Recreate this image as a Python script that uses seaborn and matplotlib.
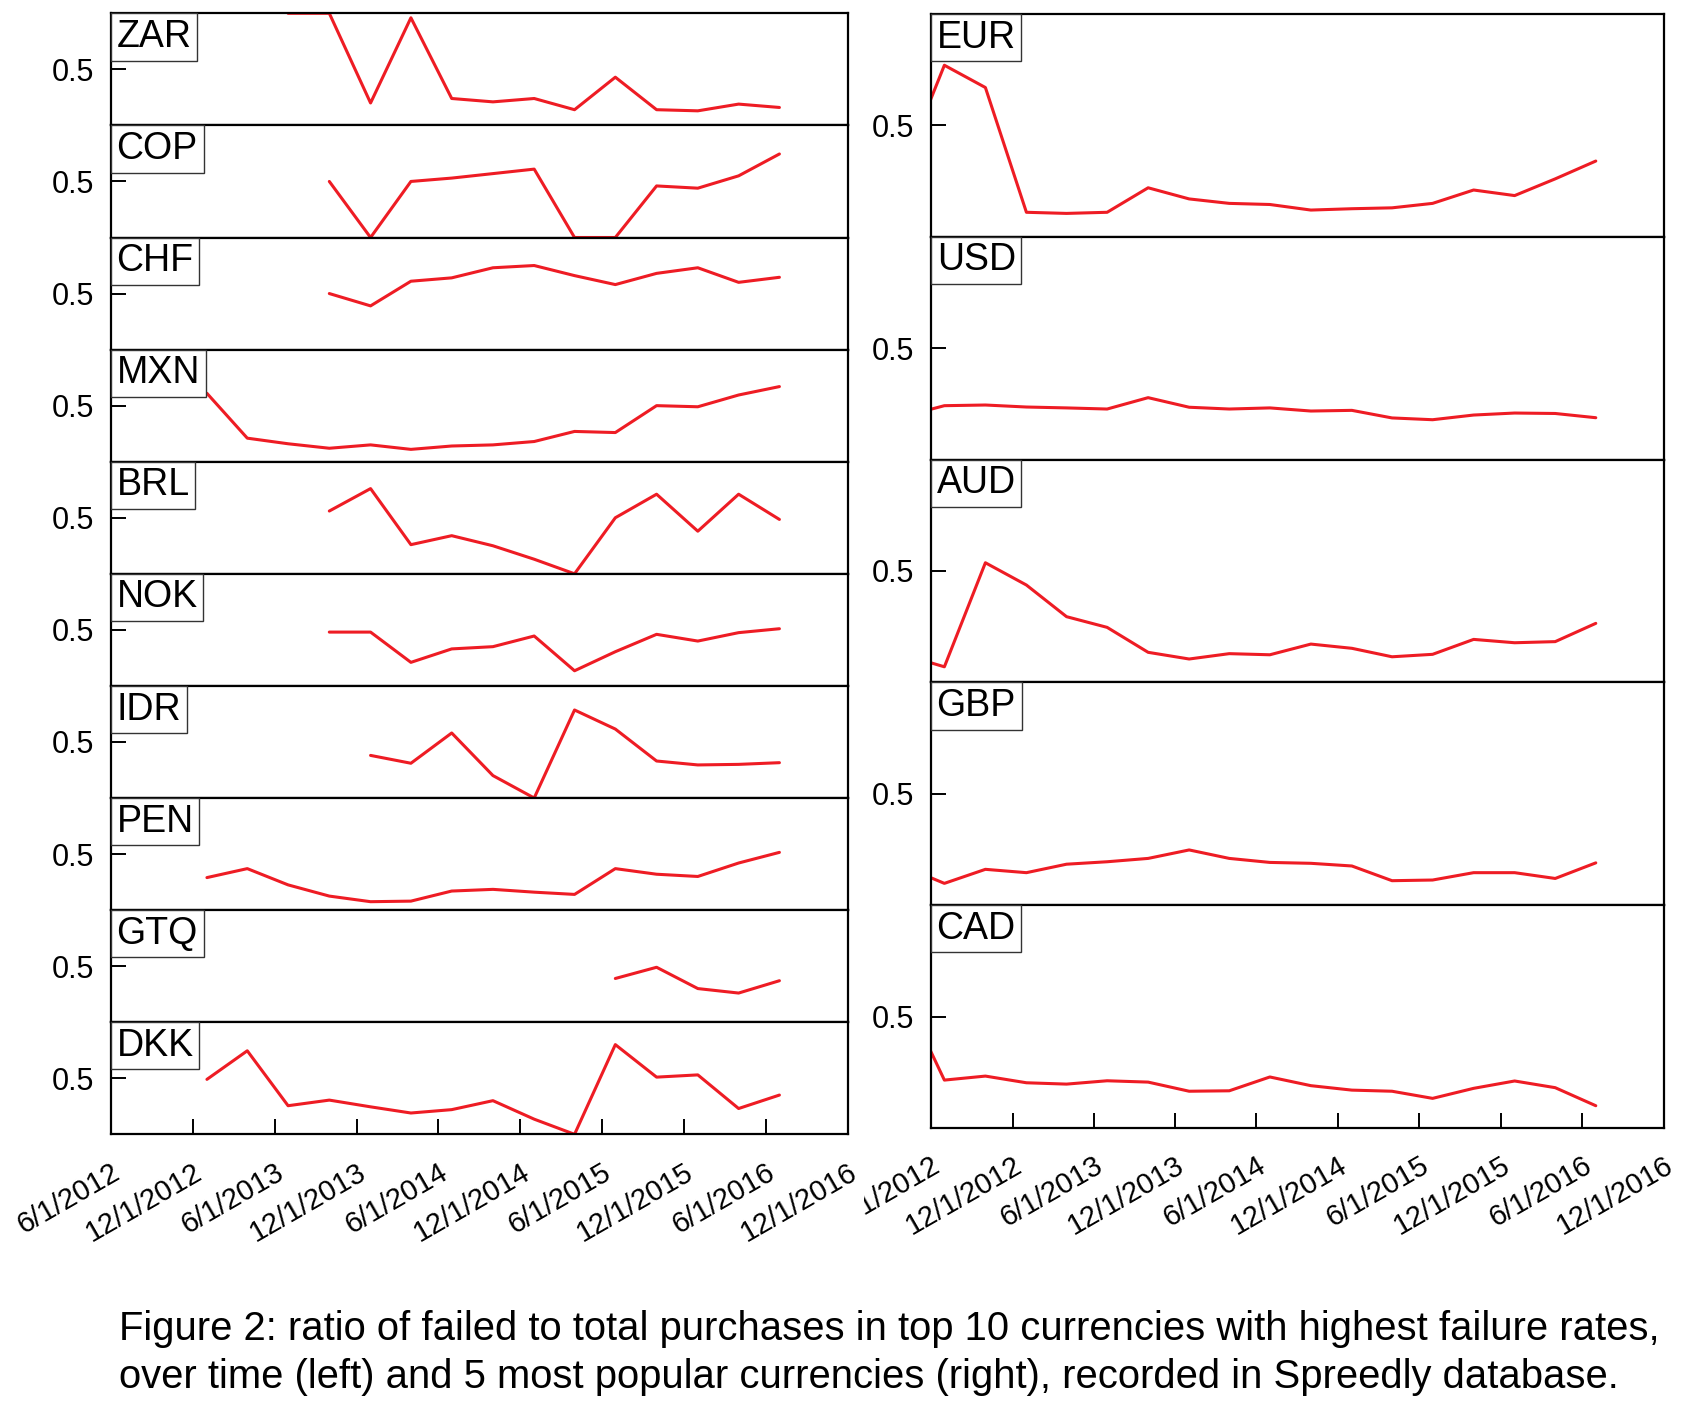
import numpy as np
import pandas as pd
import matplotlib
matplotlib.use("Agg")
import matplotlib.pyplot as plt
import matplotlib.dates as mdates
from matplotlib.offsetbox import AnchoredText
from matplotlib.transforms import ScaledTranslation, Bbox, TransformedBbox
import seaborn as sns

# ---------------- data (quarterly failure ratios) ----------------
quarters = ["2012-04-01", "2012-07-01", "2012-10-01", "2013-01-01", "2013-04-01",
            "2013-07-01", "2013-10-01", "2014-01-01", "2014-04-01", "2014-07-01",
            "2014-10-01", "2015-01-01", "2015-04-01", "2015-07-01", "2015-10-01",
            "2016-01-01", "2016-04-01", "2016-07-01"]
N = None

left_names = ["ZAR", "COP", "CHF", "MXN", "BRL", "NOK", "IDR", "PEN", "GTQ", "DKK"]
zar = [N] * 5 + [1.0, 1.0, 0.20, 0.96, 0.24, 0.21, 0.24, 0.14, 0.43, 0.14, 0.13, 0.19, 0.16]
cop = [N] * 6 + [0.50, 0.0, 0.50, 0.53, 0.57, 0.61, 0.0, 0.0, 0.46, 0.44, 0.55, 0.745]
chf = [N] * 6 + [0.50, 0.39, 0.61, 0.64, 0.73, 0.75, 0.66, 0.58, 0.68, 0.73, 0.60, 0.645]
mxn = [N] * 3 + [0.61, 0.21, 0.16, 0.12, 0.15, 0.11, 0.14, 0.15, 0.18, 0.27, 0.26, 0.50, 0.49, 0.595, 0.67]
brl = [N] * 6 + [0.56, 0.76, 0.26, 0.34, 0.25, 0.13, 0.0, 0.50, 0.71, 0.38, 0.71, 0.485]
nok = [N] * 6 + [0.48, 0.48, 0.21, 0.33, 0.35, 0.445, 0.135, 0.305, 0.46, 0.40, 0.475, 0.51]
idr = [N] * 7 + [0.38, 0.31, 0.58, 0.20, 0.0, 0.785, 0.615, 0.33, 0.295, 0.30, 0.315]
pen = [N] * 3 + [0.29, 0.37, 0.225, 0.125, 0.075, 0.08, 0.17, 0.185, 0.16, 0.14, 0.37, 0.32, 0.30, 0.42, 0.515]
gtq = [N] * 13 + [0.39, 0.49, 0.30, 0.26, 0.37]
dkk = [N] * 3 + [0.49, 0.745, 0.255, 0.305, 0.245, 0.19, 0.22, 0.30, 0.135, 0.0, 0.80, 0.51, 0.53, 0.23, 0.35]
left_values = [zar, cop, chf, mxn, brl, nok, idr, pen, gtq, dkk]

right_names = ["EUR", "USD", "AUD", "GBP", "CAD"]
eur = [0.315, 0.77, 0.67, 0.11, 0.105, 0.11, 0.22, 0.17, 0.15, 0.145, 0.12, 0.126, 0.13, 0.15, 0.21, 0.185, 0.26, 0.34]
usd = [0.194, 0.242, 0.245, 0.236, 0.232, 0.227, 0.278, 0.235, 0.227, 0.232, 0.218, 0.221, 0.187, 0.179, 0.20, 0.209, 0.207, 0.188]
aud = [0.124, 0.07, 0.537, 0.437, 0.295, 0.247, 0.135, 0.105, 0.129, 0.124, 0.172, 0.153, 0.115, 0.126, 0.193, 0.178, 0.183, 0.265]
gbp = [0.174, 0.098, 0.161, 0.146, 0.184, 0.195, 0.21, 0.248, 0.21, 0.192, 0.188, 0.176, 0.11, 0.113, 0.146, 0.146, 0.12, 0.19]
cad = [0.60, 0.215, 0.233, 0.203, 0.197, 0.212, 0.206, 0.165, 0.167, 0.229, 0.19, 0.17, 0.165, 0.133, 0.178, 0.211, 0.181, 0.10]
right_values = [eur, usd, aud, gbp, cad]

tick_dates = ["2012-06-01", "2012-12-01", "2013-06-01", "2013-12-01", "2014-06-01",
              "2014-12-01", "2015-06-01", "2015-12-01", "2016-06-01", "2016-12-01"]
tick_labels = ["6/1/2012", "12/1/2012", "6/1/2013", "12/1/2013", "6/1/2014",
               "12/1/2014", "6/1/2015", "12/1/2015", "6/1/2016", "12/1/2016"]
y_ticks = [0.5]
y_tick_labels = ["0.5"]

caption = ["Figure 2: ratio of failed to total purchases in top 10 currencies with highest failure rates,",
           "over time (left) and 5 most popular currencies (right), recorded in Spreedly database."]

# ---------------- style ----------------
sns.set_theme(style="white")
plt.rcParams["font.family"] = ["Liberation Sans", "DejaVu Sans"]
plt.rcParams["text.color"] = "black"
plt.rcParams["axes.edgecolor"] = "black"
plt.rcParams["xtick.color"] = "black"
plt.rcParams["ytick.color"] = "black"

RED = "#ee1c24"
W, H = 1684, 1408
fig = plt.figure(figsize=(W / 100, H / 100), dpi=100)
fig.patch.set_facecolor("white")

gsL = fig.add_gridspec(10, 1, left=111 / W, right=848 / W, top=1 - 13.3 / H, bottom=1 - 1134.3 / H, hspace=0)
gsR = fig.add_gridspec(5, 1, left=931 / W, right=1664 / W, top=1 - 14 / H, bottom=1 - 1128 / H, hspace=0)

x_lo = pd.Timestamp("2012-06-01")
x_hi = pd.Timestamp("2016-12-01")
tick_nums = mdates.date2num(pd.to_datetime(tick_dates).to_pydatetime())
shift = ScaledTranslation(14 / 100, 0, fig.dpi_scale_trans)


def draw_panel(ax, name, values, bottom):
    df = pd.DataFrame({"date": pd.to_datetime(quarters), "ratio": values}).dropna()
    sns.lineplot(data=df, x="date", y="ratio", ax=ax, color=RED, linewidth=2.2)
    ax.set_xlim(x_lo, x_hi)
    ax.set_ylim(0, 1)
    ax.set_xlabel("")
    ax.set_ylabel("")
    ax.set_yticks(y_ticks)
    ax.set_yticklabels(y_tick_labels)
    for s in ax.spines.values():
        s.set_linewidth(1.6)
        s.set_color("black")
    ax.tick_params(axis="y", direction="in", length=10.8, width=1.4, pad=12,
                   labelsize=22, left=True, right=False, color="black")
    if bottom:
        ax.set_xticks(tick_nums)
        ax.set_xticklabels(tick_labels)
        ax.tick_params(axis="x", direction="in", length=10.8, width=1.4, pad=17,
                       labelsize=21, bottom=True, top=False, color="black")
        for lab in ax.get_xticklabels():
            lab.set_rotation(30)
            lab.set_ha("right")
            lab.set_va("top")
            lab.set_transform(lab.get_transform() + shift)
    else:
        ax.set_xticks([])
    at = AnchoredText(name, loc="upper left", frameon=True, pad=0.15, borderpad=0,
                      prop=dict(size=27, color="black"))
    at.patch.set_boxstyle("square,pad=0")
    at.patch.set_edgecolor("#333333")
    at.patch.set_linewidth(1.0)
    at.patch.set_facecolor("white")
    ax.add_artist(at)
    return ax


for i, (nm, vals) in enumerate(zip(left_names, left_values)):
    ax = fig.add_subplot(gsL[i, 0])
    draw_panel(ax, nm, vals, i == len(left_names) - 1)

for i, (nm, vals) in enumerate(zip(right_names, right_values)):
    ax = fig.add_subplot(gsR[i, 0])
    draw_panel(ax, nm, vals, i == len(right_names) - 1)
    if i == len(right_names) - 1:
        first = ax.get_xticklabels()[0]
        first.set_clip_on(True)
        first.set_clip_box(TransformedBbox(Bbox.from_extents(864 / W, 0, 1, 1), fig.transFigure))

fig.text(119 / W, 1 - 1340 / H, caption[0], fontsize=28.8, ha="left", va="baseline")
fig.text(119 / W, 1 - 1388 / H, caption[1], fontsize=28.8, ha="left", va="baseline")

fig.savefig("out.png", dpi=100, facecolor="white")
